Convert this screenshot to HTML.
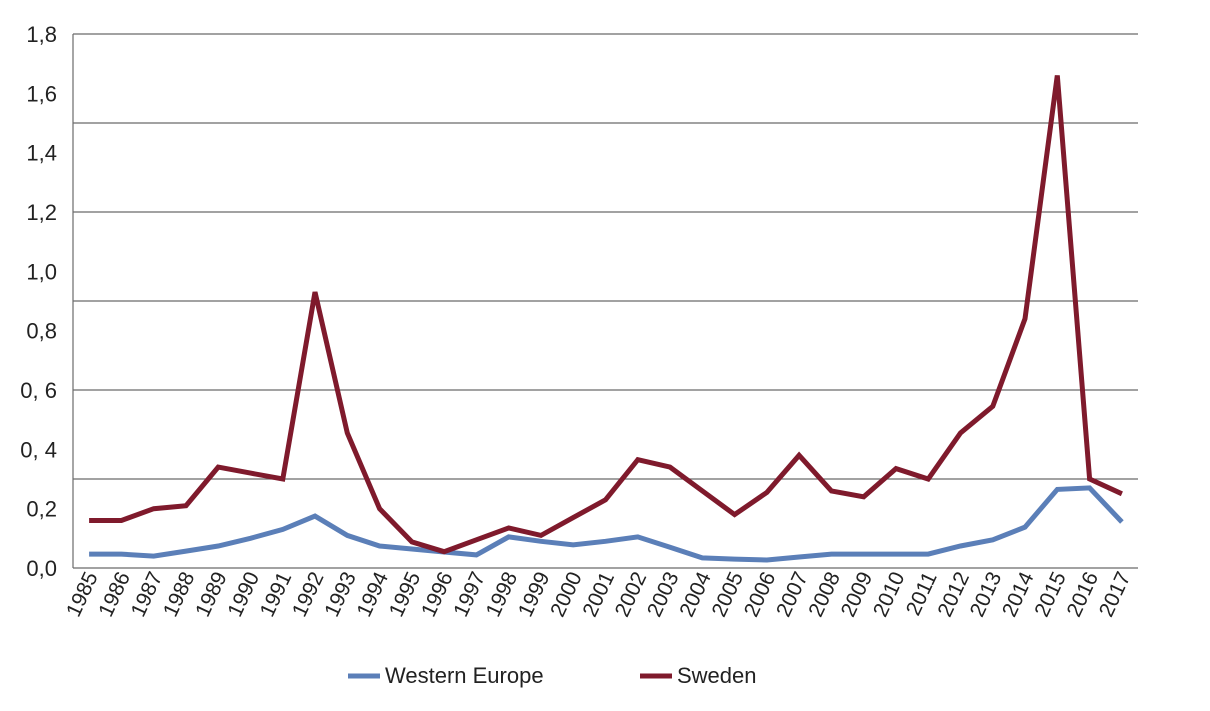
<!DOCTYPE html>
<html><head><meta charset="utf-8"><style>
html,body{margin:0;padding:0;background:#fff;}
svg{display:block;font-family:"Liberation Sans",sans-serif;}
</style></head><body>
<svg id="chart" width="1210" height="711"></svg>
<script>
const years=[1985,1986,1987,1988,1989,1990,1991,1992,1993,1994,1995,1996,1997,1998,1999,2000,2001,2002,2003,2004,2005,2006,2007,2008,2009,2010,2011,2012,2013,2014,2015,2016,2017];
const sweden=[0.16,0.16,0.2,0.21,0.34,0.32,0.30,0.93,0.455,0.2,0.088,0.055,0.095,0.135,0.11,0.17,0.23,0.365,0.34,0.26,0.18,0.255,0.38,0.26,0.24,0.335,0.30,0.455,0.545,0.84,1.66,0.30,0.25];
const westernEurope=[0.047,0.047,0.04,0.057,0.074,0.1,0.13,0.175,0.11,0.074,0.064,0.054,0.044,0.105,0.09,0.078,0.09,0.105,0.07,0.034,0.03,0.027,0.037,0.047,0.047,0.047,0.047,0.074,0.095,0.138,0.265,0.27,0.155];
const yTickLabels=["0,0","0,2","0, 4","0, 6","0,8","1,0","1,2","1,4","1,6","1,8"];
const yMax=1.8;
const NS="http://www.w3.org/2000/svg";
const svg=document.getElementById('chart');
const L=73,R=1138,T=34,B=568;
const step=(R-L)/years.length;
function x(i){return L+step*(i+0.5);}
function y(v){return B-v/yMax*(B-T);}
function mk(t,a,p){const e=document.createElementNS(NS,t);for(const k in a)e.setAttribute(k,a[k]);(p||svg).appendChild(e);return e;}
for(let g=0;g<=6;g++){
  const gy=T+(B-T)*g/6;
  const ln=mk('line',{x1:L,x2:R,y1:gy,y2:gy,stroke:'#6b6b6b','stroke-width':1.2});
  
  
}
const ax=mk('line',{x1:L,x2:L,y1:T,y2:B,stroke:'#6b6b6b','stroke-width':1.2});


yTickLabels.forEach((t,i)=>{
  const v=i*0.2;
  const tx=mk('text',{x:57,y:y(v)+8,'text-anchor':'end','font-size':22,fill:'#222'});
  tx.textContent=t;
  
  
});
years.forEach((yr,i)=>{
  const tx=mk('text',{x:0,y:0,'text-anchor':'end','font-size':21,fill:'#222',transform:`translate(${x(i)+9},${B+8}) rotate(-65)`});
  tx.textContent=yr;
  
  
});
function line(data,color,name){
  const d=data.map((v,i)=>(i?'L':'M')+x(i).toFixed(1)+','+y(v).toFixed(1)).join('');
  const p=mk('path',{d:d,fill:'none',stroke:color,'stroke-width':5,'stroke-linejoin':'miter'});
  
  
}
line(westernEurope,'#5b7fb8','western-europe-line');
line(sweden,'#7f1a2c','sweden-line');
const lg=mk('g',{});


const e1=mk('g',{},lg);


mk('line',{x1:348,x2:380,y1:676,y2:676,stroke:'#5b7fb8','stroke-width':5},e1);
const t1=mk('text',{x:385,y:683,'font-size':22,fill:'#222'},e1);t1.textContent='Western Europe';
const e2=mk('g',{},lg);


mk('line',{x1:640,x2:672,y1:676,y2:676,stroke:'#7f1a2c','stroke-width':5},e2);
const t2=mk('text',{x:677,y:683,'font-size':22,fill:'#222'},e2);t2.textContent='Sweden';
</script>
</body></html>
